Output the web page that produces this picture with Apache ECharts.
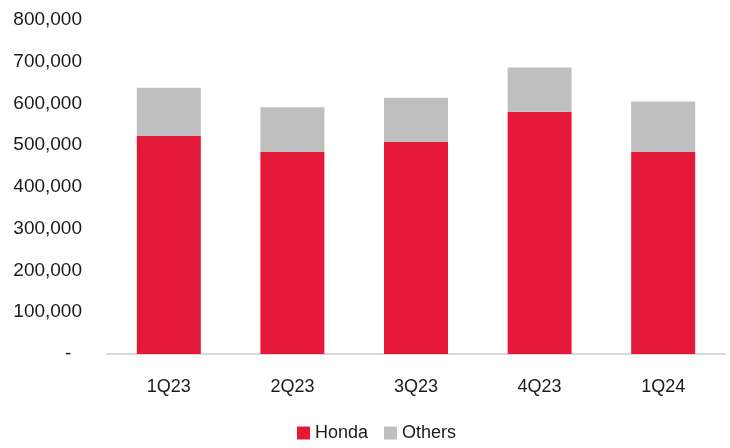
<!DOCTYPE html>
<html>
<head>
<meta charset="utf-8">
<script src="https://cdn.jsdelivr.net/npm/echarts@6/dist/echarts.min.js"></script>
<style>
  html, body { margin: 0; padding: 0; background: #fff; }
  #myCharts { width: 730px; height: 448px; }
</style>
</head>
<body>
<div id="myCharts"></div>
<script>
// data
const categories = ["1Q23", "2Q23", "3Q23", "4Q23", "1Q24"];
const hondaValues = [522000, 484000, 508000, 580000, 484000];
const othersValues = [116000, 107000, 106000, 106000, 121000];
const yTicks = [0, 100000, 200000, 300000, 400000, 500000, 600000, 700000, 800000];

const font = "'Liberation Sans Narrow', 'Arial Narrow', 'Liberation Sans', sans-serif";
const myCharts = echarts.init(document.getElementById("myCharts"));

let option = {
  animation: false,
  textStyle: { fontFamily: font },
  grid: {
    left: 107,
    right: 5,
    top: 20,
    bottom: 94,
  },
  legend: {
    bottom: 1,
    left: 292,
    itemWidth: 13,
    itemHeight: 13,
    itemGap: 16,
    icon: "rect",
    textStyle: { fontFamily: font, fontSize: 18, color: "#1a1a1a" },
    data: ["Honda", "Others"],
  },
  xAxis: {
    type: "category",
    data: categories,
    axisLine: { lineStyle: { color: "#d9d9d9", width: 2 } },
    axisTick: { show: false }, //隐藏刻度线
    axisLabel: {
      margin: 24,
      fontSize: 18,
      color: "#1a1a1a",
      fontFamily: font,
    },
  },
  yAxis: {
    type: "value",
    min: yTicks[0],
    max: yTicks[yTicks.length - 1],
    interval: 100000,
    axisLine: { show: false },
    axisTick: { show: false },
    splitLine: { show: false },
    axisLabel: {
      margin: 25,
      fontSize: 19,
      color: "#1a1a1a",
      fontFamily: font,
      // zero shows as an accounting dash, set in a little from the right
      formatter: function (v) {
        return v === 0 ? "-  " : v.toLocaleString("en-US");
      },
    },
  },
  series: [
    {
      name: "Honda",
      type: "bar",
      stack: "total",
      barWidth: 64,
      itemStyle: { color: "#E31937" },
      data: hondaValues,
    },
    {
      name: "Others",
      type: "bar",
      stack: "total",
      barWidth: 64,
      itemStyle: { color: "#BFBFBF" },
      data: othersValues,
    },
  ],
};

myCharts.setOption(option);
</script>
</body>
</html>
